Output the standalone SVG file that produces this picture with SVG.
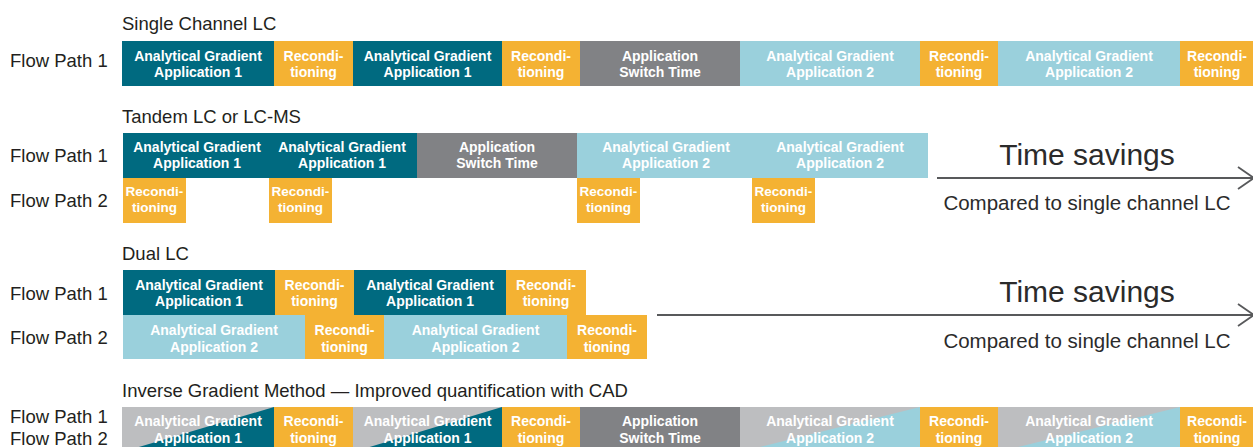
<svg xmlns="http://www.w3.org/2000/svg" width="1253" height="447" viewBox="0 0 1253 447">
<style>
.bg{fill:#ffffff}
.teal{fill:#006a80}
.orange{fill:#f4b233}
.gray{fill:#818285}
.lblue{fill:#9ad0dc}
.lgray{fill:#bdbec0}
.bt{font-family:"Liberation Sans",Arial,sans-serif;font-weight:bold;font-size:14px;fill:#ffffff;text-anchor:middle}
.bts{font-family:"Liberation Sans",Arial,sans-serif;font-weight:bold;font-size:13.5px;fill:#ffffff;text-anchor:middle}
.title{font-family:"Liberation Sans",Arial,sans-serif;font-size:18.5px;fill:#231f20}
.fp{font-family:"Liberation Sans",Arial,sans-serif;font-size:18.5px;fill:#231f20}
.ts{font-family:"Liberation Sans",Arial,sans-serif;font-size:30px;fill:#2b2b2b;text-anchor:middle}
.cmp{font-family:"Liberation Sans",Arial,sans-serif;font-size:20.5px;fill:#2b2b2b;text-anchor:middle}
.arr{fill:none;stroke:#58595b;stroke-width:1.8}
</style>
<rect class="bg" x="0" y="0" width="1253" height="447"/>

<!-- Titles and row labels -->
<g id="labels">
<text class="title" x="122" y="30">Single Channel LC</text>
<text class="fp" x="10" y="67">Flow Path 1</text>
<text class="title" x="122" y="123">Tandem LC or LC-MS</text>
<text class="fp" x="10" y="162">Flow Path 1</text>
<text class="fp" x="10" y="207">Flow Path 2</text>
<text class="title" x="122" y="260">Dual LC</text>
<text class="fp" x="10" y="300">Flow Path 1</text>
<text class="fp" x="10" y="344">Flow Path 2</text>
<text class="title" x="122" y="397">Inverse Gradient Method — Improved quantification with CAD</text>
<text class="fp" x="10" y="423">Flow Path 1</text>
<text class="fp" x="10" y="445">Flow Path 2</text>
</g>

<!-- Row 1: Single Channel LC -->
<g id="sc-a1"><rect class="teal" x="122" y="41" width="152" height="45"/><text class="bt" x="198" y="61">Analytical Gradient</text><text class="bt" x="198" y="77">Application 1</text></g>
<g id="sc-r1"><rect class="orange" x="274" y="41" width="79" height="45"/><text class="bt" x="313.5" y="61">Recondi-</text><text class="bt" x="313.5" y="77">tioning</text></g>
<g id="sc-a2"><rect class="teal" x="353" y="41" width="149" height="45"/><text class="bt" x="427.5" y="61">Analytical Gradient</text><text class="bt" x="427.5" y="77">Application 1</text></g>
<g id="sc-r2"><rect class="orange" x="502" y="41" width="78" height="45"/><text class="bt" x="541" y="61">Recondi-</text><text class="bt" x="541" y="77">tioning</text></g>
<g id="sc-sw"><rect class="gray" x="580" y="41" width="160" height="45"/><text class="bt" x="660" y="61">Application</text><text class="bt" x="660" y="77">Switch Time</text></g>
<g id="sc-b1"><rect class="lblue" x="740" y="41" width="180" height="45"/><text class="bt" x="830" y="61">Analytical Gradient</text><text class="bt" x="830" y="77">Application 2</text></g>
<g id="sc-r3"><rect class="orange" x="920" y="41" width="78" height="45"/><text class="bt" x="959" y="61">Recondi-</text><text class="bt" x="959" y="77">tioning</text></g>
<g id="sc-b2"><rect class="lblue" x="998" y="41" width="182" height="45"/><text class="bt" x="1089" y="61">Analytical Gradient</text><text class="bt" x="1089" y="77">Application 2</text></g>
<g id="sc-r4"><rect class="orange" x="1180" y="41" width="73" height="45"/><text class="bt" x="1217" y="61">Recondi-</text><text class="bt" x="1217" y="77">tioning</text></g>

<!-- Row 2: Tandem -->
<g id="td-a1"><rect class="teal" x="123" y="133" width="147" height="45"/><text class="bt" x="197" y="152">Analytical Gradient</text><text class="bt" x="197" y="168">Application 1</text></g>
<g id="td-a2"><rect class="teal" x="269.5" y="133" width="147.5" height="45"/><text class="bt" x="342" y="152">Analytical Gradient</text><text class="bt" x="342" y="168">Application 1</text></g>
<g id="td-sw"><rect class="gray" x="417" y="133" width="160" height="45"/><text class="bt" x="497" y="152">Application</text><text class="bt" x="497" y="168">Switch Time</text></g>
<g id="td-b1"><rect class="lblue" x="577" y="133" width="176" height="45"/><text class="bt" x="666" y="152">Analytical Gradient</text><text class="bt" x="666" y="168">Application 2</text></g>
<g id="td-b2"><rect class="lblue" x="752.5" y="133" width="175.5" height="45"/><text class="bt" x="840" y="152">Analytical Gradient</text><text class="bt" x="840" y="168">Application 2</text></g>
<g id="td-r1"><rect class="orange" x="123" y="178" width="63" height="45"/><text class="bts" x="154.5" y="196">Recondi-</text><text class="bts" x="154.5" y="212">tioning</text></g>
<g id="td-r2"><rect class="orange" x="269" y="178" width="63" height="45"/><text class="bts" x="300.5" y="196">Recondi-</text><text class="bts" x="300.5" y="212">tioning</text></g>
<g id="td-r3"><rect class="orange" x="577" y="178" width="63" height="45"/><text class="bts" x="608.5" y="196">Recondi-</text><text class="bts" x="608.5" y="212">tioning</text></g>
<g id="td-r4"><rect class="orange" x="752" y="178" width="63" height="45"/><text class="bts" x="783.5" y="196">Recondi-</text><text class="bts" x="783.5" y="212">tioning</text></g>

<!-- Row 3: Dual LC -->
<g id="du-a1"><rect class="teal" x="123" y="270" width="152" height="45"/><text class="bt" x="199" y="290">Analytical Gradient</text><text class="bt" x="199" y="306">Application 1</text></g>
<g id="du-r1"><rect class="orange" x="275" y="270" width="79" height="45"/><text class="bt" x="314.5" y="290">Recondi-</text><text class="bt" x="314.5" y="306">tioning</text></g>
<g id="du-a2"><rect class="teal" x="354" y="270" width="152" height="45"/><text class="bt" x="430" y="290">Analytical Gradient</text><text class="bt" x="430" y="306">Application 1</text></g>
<g id="du-r2"><rect class="orange" x="506" y="270" width="80" height="45"/><text class="bt" x="546" y="290">Recondi-</text><text class="bt" x="546" y="306">tioning</text></g>
<g id="du-b1"><rect class="lblue" x="123" y="315" width="182" height="44"/><text class="bt" x="214" y="335">Analytical Gradient</text><text class="bt" x="214" y="352">Application 2</text></g>
<g id="du-r3"><rect class="orange" x="305" y="315" width="79" height="44"/><text class="bt" x="344.5" y="335">Recondi-</text><text class="bt" x="344.5" y="352">tioning</text></g>
<g id="du-b2"><rect class="lblue" x="384" y="315" width="183" height="44"/><text class="bt" x="475.5" y="335">Analytical Gradient</text><text class="bt" x="475.5" y="352">Application 2</text></g>
<g id="du-r4"><rect class="orange" x="567" y="315" width="80" height="44"/><text class="bt" x="607" y="335">Recondi-</text><text class="bt" x="607" y="352">tioning</text></g>

<!-- Row 4: Inverse Gradient -->
<g id="ig-a1"><rect class="lgray" x="122" y="407" width="152" height="45"/><polygon class="teal" points="274,407 274,452 122,452"/><text class="bt" x="198" y="426">Analytical Gradient</text><text class="bt" x="198" y="443">Application 1</text></g>
<g id="ig-r1"><rect class="orange" x="274" y="407" width="79" height="45"/><text class="bt" x="313.5" y="426">Recondi-</text><text class="bt" x="313.5" y="443">tioning</text></g>
<g id="ig-a2"><rect class="lgray" x="353" y="407" width="149" height="45"/><polygon class="teal" points="502,407 502,452 353,452"/><text class="bt" x="427.5" y="426">Analytical Gradient</text><text class="bt" x="427.5" y="443">Application 1</text></g>
<g id="ig-r2"><rect class="orange" x="502" y="407" width="78" height="45"/><text class="bt" x="541" y="426">Recondi-</text><text class="bt" x="541" y="443">tioning</text></g>
<g id="ig-sw"><rect class="gray" x="580" y="407" width="160" height="45"/><text class="bt" x="660" y="426">Application</text><text class="bt" x="660" y="443">Switch Time</text></g>
<g id="ig-b1"><rect class="lgray" x="740" y="407" width="180" height="45"/><polygon class="lblue" points="920,407 920,452 740,452"/><text class="bt" x="830" y="426">Analytical Gradient</text><text class="bt" x="830" y="443">Application 2</text></g>
<g id="ig-r3"><rect class="orange" x="920" y="407" width="78" height="45"/><text class="bt" x="959" y="426">Recondi-</text><text class="bt" x="959" y="443">tioning</text></g>
<g id="ig-b2"><rect class="lgray" x="998" y="407" width="182" height="45"/><polygon class="lblue" points="1180,407 1180,452 998,452"/><text class="bt" x="1089" y="426">Analytical Gradient</text><text class="bt" x="1089" y="443">Application 2</text></g>
<g id="ig-r4"><rect class="orange" x="1180" y="407" width="73" height="45"/><text class="bt" x="1217" y="426">Recondi-</text><text class="bt" x="1217" y="443">tioning</text></g>

<!-- Connectors: time savings arrows -->
<g id="connectors">
<path class="arr" d="M937,178 H1254"/>
<path class="arr" d="M1238,167 L1254,178 L1238,189"/>
<path class="arr" d="M657,315 H1254"/>
<path class="arr" d="M1238,304 L1254,315 L1238,326"/>
</g>
<g id="savings-text">
<text class="ts" x="1087" y="165">Time savings</text>
<text class="cmp" x="1087" y="210">Compared to single channel LC</text>
<text class="ts" x="1087" y="302">Time savings</text>
<text class="cmp" x="1087" y="348">Compared to single channel LC</text>
</g>
</svg>
